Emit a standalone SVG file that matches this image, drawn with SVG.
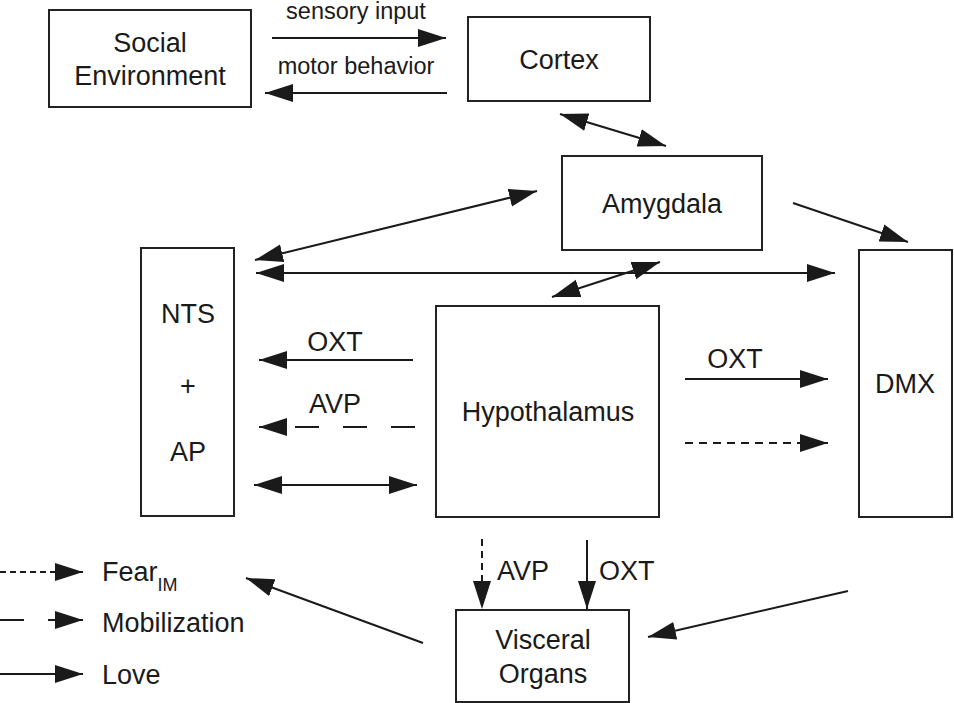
<svg xmlns="http://www.w3.org/2000/svg" width="954" height="703" viewBox="0 0 954 703">
<style>
.box{fill:#fff;stroke:#222;stroke-width:2}
.t{font-family:"Liberation Sans",Arial,sans-serif;font-size:27px;fill:#1a1a1a;text-anchor:middle}
.s{font-family:"Liberation Sans",Arial,sans-serif;font-size:23.5px;fill:#1a1a1a;text-anchor:middle}
.l{font-family:"Liberation Sans",Arial,sans-serif;font-size:27px;fill:#1a1a1a}
.c{stroke:#1a1a1a;stroke-width:2;fill:none}
</style>
<defs>
<marker id="ah" markerUnits="userSpaceOnUse" markerWidth="29" markerHeight="19" refX="28" refY="9" orient="auto-start-reverse" viewBox="0 0 29 18">
<path d="M0,0 L28,9 L0,18 Z" fill="#1a1a1a"/>
</marker>
</defs>
<rect width="954" height="703" fill="#fff"/>
<g id="social"><rect class="box" x="49" y="10" width="202" height="97"/><text class="t" x="150" y="52">Social</text><text class="t" x="150" y="85">Environment</text></g>
<g id="cortex"><rect class="box" x="468" y="17" width="182" height="84"/><text class="t" x="559" y="69">Cortex</text></g>
<g id="amygdala"><rect class="box" x="562" y="156" width="200" height="94"/><text class="t" x="662" y="213">Amygdala</text></g>
<g id="nts"><rect class="box" x="141" y="248" width="93" height="268"/><text class="t" x="188" y="323">NTS</text><text class="t" x="188" y="395">+</text><text class="t" x="188" y="461">AP</text></g>
<g id="hypothalamus"><rect class="box" x="436" y="306" width="223" height="211"/><text class="t" x="548" y="421">Hypothalamus</text></g>
<g id="dmx"><rect class="box" x="859" y="250" width="93" height="267"/><text class="t" x="905" y="393">DMX</text></g>
<g id="visceral"><rect class="box" x="456" y="610" width="173" height="92"/><text class="t" x="543" y="649">Visceral</text><text class="t" x="543" y="683">Organs</text></g>
<g id="connectors">
<line class="c" x1="272" y1="38" x2="446" y2="38" marker-end="url(#ah)"/>
<text class="s" x="356" y="19">sensory input</text>
<line class="c" x1="447" y1="93" x2="265" y2="93" marker-end="url(#ah)"/>
<text class="s" x="356" y="74">motor behavior</text>
<line class="c" x1="560" y1="114" x2="666" y2="146" marker-start="url(#ah)" marker-end="url(#ah)"/>
<line class="c" x1="537" y1="191" x2="255" y2="260" marker-start="url(#ah)" marker-end="url(#ah)"/>
<line class="c" x1="256" y1="273" x2="835" y2="273" marker-start="url(#ah)" marker-end="url(#ah)"/>
<line class="c" x1="793" y1="203" x2="908" y2="242" marker-end="url(#ah)"/>
<line class="c" x1="660" y1="262" x2="552" y2="297" marker-start="url(#ah)" marker-end="url(#ah)"/>
<line class="c" x1="413" y1="360" x2="259" y2="360" marker-end="url(#ah)"/>
<text class="t" x="335" y="351">OXT</text>
<line class="c" x1="415" y1="427" x2="259" y2="427" stroke-dasharray="24 24" marker-end="url(#ah)"/>
<text class="t" x="335" y="413">AVP</text>
<line class="c" x1="254" y1="485" x2="417" y2="485" marker-start="url(#ah)" marker-end="url(#ah)"/>
<line class="c" x1="685" y1="379" x2="828" y2="379" marker-end="url(#ah)"/>
<text class="t" x="735" y="368">OXT</text>
<line class="c" x1="685" y1="443" x2="828" y2="443" stroke-dasharray="8 6" marker-end="url(#ah)"/>
<line class="c" x1="482" y1="539" x2="482" y2="609" stroke-dasharray="7 5" marker-end="url(#ah)"/>
<text class="l" x="497" y="580">AVP</text>
<line class="c" x1="587" y1="540" x2="587" y2="609" marker-end="url(#ah)"/>
<text class="l" x="599" y="580">OXT</text>
<line class="c" x1="848" y1="591" x2="648" y2="637" marker-end="url(#ah)"/>
<line class="c" x1="423" y1="643" x2="246" y2="578" marker-end="url(#ah)"/>
</g>
<g id="legend">
<line class="c" x1="0" y1="572" x2="83" y2="572" stroke-dasharray="6 4" marker-end="url(#ah)"/>
<text class="l" x="102" y="581">Fear<tspan font-size="18" dy="10">IM</tspan></text>
<line class="c" x1="0" y1="620" x2="24" y2="620"/>
<line class="c" x1="48" y1="620" x2="83" y2="620" marker-end="url(#ah)"/>
<text class="l" x="102" y="632">Mobilization</text>
<line class="c" x1="0" y1="674" x2="83" y2="674" marker-end="url(#ah)"/>
<text class="l" x="102" y="684">Love</text>
</g>
</svg>
